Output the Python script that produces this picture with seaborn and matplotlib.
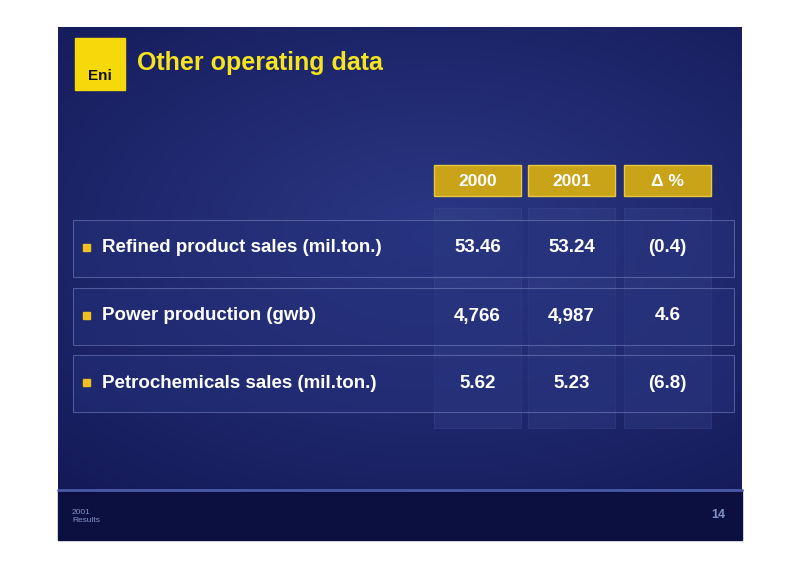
import numpy as np
import matplotlib
matplotlib.use("Agg")
import matplotlib.pyplot as plt
import seaborn as sns
from matplotlib.patches import Rectangle

sns.set_theme(style="white")
plt.rcParams['font.family'] = ['Liberation Sans', 'DejaVu Sans']

title = "Other operating data"
columns = ["2000", "2001", "\u0394 %"]
rows = ["Refined product sales (mil.ton.)", "Power production (gwb)", "Petrochemicals sales (mil.ton.)"]
v2000 = ["53.46", "4,766", "5.62"]
v2001 = ["53.24", "4,987", "5.23"]
delta = ["(0.4)", "4.6", "(6.8)"]

fig = plt.figure(figsize=(8, 5.65), dpi=100)
ax = fig.add_axes([0, 0, 1, 1])
ax.set_xlim(0, 800); ax.set_ylim(565, 0); ax.axis("off")

yy, xx = np.mgrid[0:1:200j, 0:1:200j]
g = np.clip(1 - np.sqrt((xx - 0.55) ** 2 * 1.2 + (yy - 0.45) ** 2 * 1.6), 0, 1)
c0 = np.array([0.07, 0.09, 0.33]); c1 = np.array([0.17, 0.22, 0.52])
img = c0 + (c1 - c0) * g[..., None]
ax.imshow(img, extent=(58, 742, 490, 27), aspect="auto", zorder=0)
ax.add_patch(Rectangle((58, 490), 684, 50, color="#0c1040", zorder=1))
ax.plot([58, 742], [490, 490], color="#4a5aa8", lw=2, zorder=2)

ax.add_patch(Rectangle((75, 38), 50, 52, color="#f5d90a", zorder=3))
ax.text(100, 76, "Eni", color="#111", fontsize=11, fontweight="bold", ha="center", va="center", zorder=4)
ax.text(137, 63, title, color="#f5e51e", fontsize=18, fontweight="bold", va="center", zorder=4)

col_x = [434, 528, 624]
for x, lab in zip(col_x, columns):
    ax.add_patch(Rectangle((x, 208), 87, 220, facecolor="#3a4890", alpha=0.3, edgecolor="#5060a0", lw=0.6, zorder=2))
    ax.add_patch(Rectangle((x, 165), 87, 31, facecolor="#c9a318", edgecolor="#e8c840", lw=1, zorder=3))
    ax.text(x + 43.5, 181, lab, color="white", fontsize=12.5, fontweight="bold", ha="center", va="center", zorder=4)

row_y = [220, 288, 355]
for y, r, a, b, d in zip(row_y, rows, v2000, v2001, delta):
    ax.add_patch(Rectangle((73, y), 661, 57, facecolor="#24307a", alpha=0.5, edgecolor="#8090c8", lw=0.8, zorder=3))
    ax.add_patch(Rectangle((83, y + 24), 7, 7, color="#f0c020", zorder=4))
    ax.text(102, y + 28, r, color="white", fontsize=13.5, fontweight="bold", va="center", zorder=4)
    for x, v in zip(col_x, [a, b, d]):
        ax.text(x + 43.5, y + 28, v, color="white", fontsize=13.5, fontweight="bold", ha="center", va="center", zorder=4)

ax.text(72, 517, "2001\nResults", color="#8090c8", fontsize=6, va="center", zorder=4)
ax.text(718, 515, "14", color="#8090c8", fontsize=9, fontweight="bold", ha="center", va="center", zorder=4)

fig.savefig("out.png", dpi=100, facecolor="white")
